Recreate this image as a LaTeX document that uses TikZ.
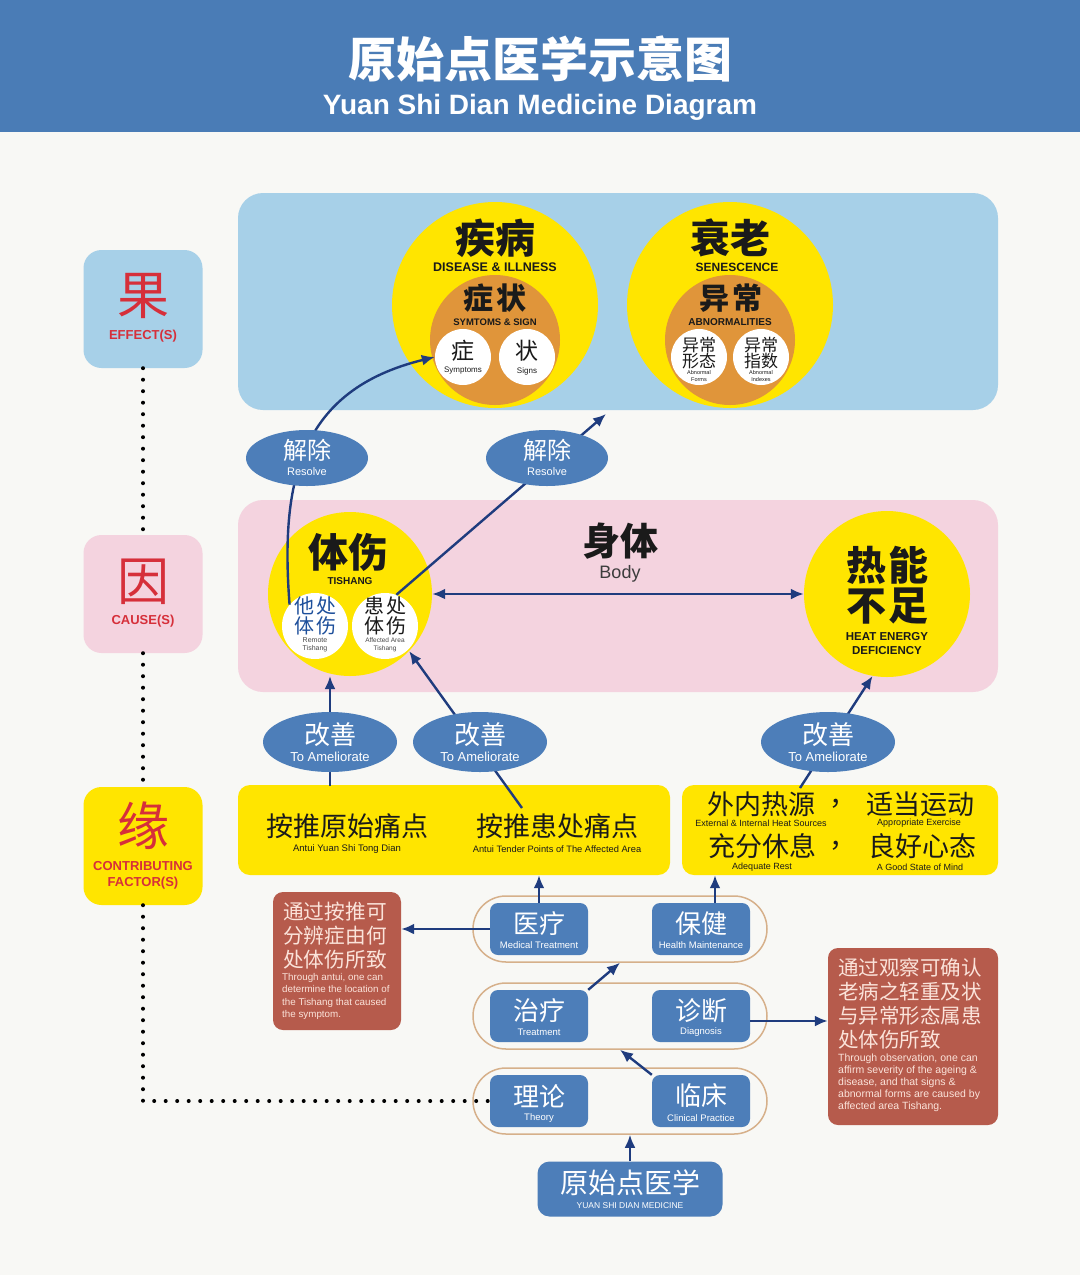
\documentclass[tikz,border=0pt]{standalone}
\usepackage{fontspec}
\setmainfont{Liberation Sans}
\newfontfamily\cjk{Noto Sans CJK SC}
\usetikzlibrary{arrows.meta,shapes.geometric}
\newcommand\fsz[1]{\fontsize{#1}{#1}\selectfont}
\definecolor{hdblue}{HTML}{4A7CB6}
\definecolor{paper}{HTML}{F8F8F5}
\definecolor{effblue}{HTML}{A7D0E8}
\definecolor{causepink}{HTML}{F4D3DF}
\definecolor{sunyellow}{HTML}{FFE500}
\definecolor{rust}{HTML}{E0953A}
\definecolor{tagred}{HTML}{D62F3A}
\definecolor{btnblue}{HTML}{4D7EB9}
\definecolor{navy}{HTML}{1F3C7E}
\definecolor{brick}{HTML}{B65B4C}
\definecolor{rimtan}{HTML}{D6B08A}
\definecolor{ink}{HTML}{1A1A1A}
\definecolor{notetxt}{HTML}{FBE3DA}
\definecolor{remblue}{HTML}{1D4F9B}
\tikzset{
  arr/.style={navy, line width=2.4pt, -{Latex[length=13pt,width=11pt]}},
  dblarr/.style={navy, line width=2.4pt, {Latex[length=13pt,width=11pt]}-{Latex[length=13pt,width=11pt]}},
  dotline/.style={line width=4pt, line cap=round, dash pattern=on 0pt off 11.5pt},
  tag/.style={fill=#1, rounded corners=18pt, minimum width=119pt, minimum height=118pt},
  disc/.style={circle, fill=#1, inner sep=0pt},
  oval/.style={ellipse, fill=btnblue, inner sep=0pt},
  btn/.style={fill=btnblue, rounded corners=8pt, minimum width=98pt, minimum height=52pt, inner sep=0pt},
  capsule/.style={draw=rimtan, line width=1.5pt, rounded corners=33pt, minimum width=294pt, minimum height=66pt},
  note/.style={fill=brick, rounded corners=10pt},
  zh/.style={font=\cjk\fsz{#1}, inner sep=0pt},
  zhb/.style={font=\cjk\bfseries\fsz{#1}, inner sep=0pt, text=ink},
  en/.style={font=\fsz{#1}, inner sep=0pt},
  enb/.style={font=\bfseries\fsz{#1}, inner sep=0pt},
}

\begin{document}
\begin{tikzpicture}[x=1pt,y=-1pt]
	%%%%% BACKGROUND %%%%%
	\useasboundingbox (0,0) rectangle (1080,1275);
	\fill[paper] (0,0) rectangle (1080,1275);
	\fill[hdblue] (0,0) rectangle (1080,132);
	\node[zhb=48, text=white] (title) at (540,59) {原始点医学示意图};
	\node[enb=28, text=white] (subtitle) at (540,107) {Yuan Shi Dian Medicine Diagram};
	
	\fill[effblue, rounded corners=25pt] (238,193) rectangle (998,410);
	\fill[causepink, rounded corners=25pt] (238,500) rectangle (998,692);
	
	%%%%% LEFT TAGS %%%%%
	\node[tag=effblue] (eff) at (143,309) {};
	\node[zh=52, text=tagred] at (143,296) {果};
	\node[enb=13, text=tagred] at (143,336) {EFFECT(S)};
	\node[tag=causepink] (cause) at (143,594) {};
	\node[zh=52, text=tagred] at (143,582) {因};
	\node[enb=13, text=tagred] at (143,621) {CAUSE(S)};
	\node[tag=sunyellow] (cont) at (143,846) {};
	\node[zh=52, text=tagred] at (143,826) {缘};
	\node[enb=13, text=tagred] at (143,866) {CONTRIBUTING};
	\node[enb=13, text=tagred] at (143,883) {FACTOR(S)};
	
	%%%%% EFFECTS %%%%%
	\node[disc=sunyellow, minimum size=206pt] (dis) at (495,305) {};
	\node[disc=rust, minimum size=130pt] (sym) at (495,340) {};
	\node[disc=white, minimum size=56pt] (zheng) at (463,357) {};
	\node[disc=white, minimum size=56pt] (zhuang) at (527,357) {};
	\node[zhb=40] at (495,238) {疾病};
	\node[enb=12.5, text=ink] at (495,267) {DISEASE \& ILLNESS};
	\node[zhb=30] at (495,298) {症\hspace{4pt}状};
	\node[enb=9.5, text=ink] at (495,322) {SYMTOMS \& SIGN};
	\node[zh=23, text=ink] at (463,351) {症};
	\node[en=8, text=ink] at (463,371) {Symptoms};
	\node[zh=23, text=ink] at (527,351) {状};
	\node[en=8, text=ink] at (527,371) {Signs};
	
	\node[disc=sunyellow, minimum size=206pt] (sen) at (730,305) {};
	\node[disc=rust, minimum size=130pt] (abn) at (730,340) {};
	\node[disc=white, minimum size=56pt] (aform) at (699,357) {};
	\node[disc=white, minimum size=56pt] (aindex) at (761,357) {};
	\node[zhb=40] at (730,238) {衰老};
	\node[enb=12, text=ink] at (737,267) {SENESCENCE};
	\node[zhb=30] at (731,298) {异\hspace{4pt}常};
	\node[enb=10, text=ink] at (730,322) {ABNORMALITIES};
	\node[inner sep=0pt, align=center, font=\cjk\fontsize{17}{16}\selectfont, text=ink] at (699,353) {异常\\形态};
	\node[inner sep=0pt, align=center, font=\fontsize{5.5}{6.5}\selectfont, text=ink] at (699,376) {Abnormal\\Forms};
	\node[inner sep=0pt, align=center, font=\cjk\fontsize{17}{16}\selectfont, text=ink] at (761,353) {异常\\指数};
	\node[inner sep=0pt, align=center, font=\fontsize{5.5}{6.5}\selectfont, text=ink] at (761,376) {Abnormal\\Indexes};
	
	%%%%% CAUSES %%%%%
	\node[disc=sunyellow, minimum size=164pt] (ts) at (350,594) {};
	\node[disc=white, minimum size=66pt] (rt) at (315,626) {};
	\node[disc=white, minimum size=66pt] (aft) at (385,626) {};
	\node[zhb=40] at (348,552) {体伤};
	\node[enb=10, text=ink] at (350,581) {TISHANG};
	\node[inner sep=0pt, align=center, font=\cjk\fontsize{20}{20}\selectfont, text=remblue] at (315,616) {他\hspace{2pt}处\\体\hspace{2pt}伤};
	\node[inner sep=0pt, align=center, font=\fontsize{7}{7.5}\selectfont, text=ink!80] at (315,645) {Remote\\Tishang};
	\node[inner sep=0pt, align=center, font=\cjk\fontsize{20}{20}\selectfont, text=ink] at (385,616) {患\hspace{2pt}处\\体\hspace{2pt}伤};
	\node[inner sep=0pt, align=center, font=\fontsize{6.5}{7.5}\selectfont, text=ink!80] at (385,645) {Affected Area\\Tishang};
	
	\node[zhb=38] (body) at (620,541) {身体};
	\node[en=18, text=ink!85] at (620,574) {Body};
	
	\node[disc=sunyellow, minimum size=166pt] (heat) at (887,594) {};
	\node[zhb=40] at (887,565) {热\hspace{2pt}能};
	\node[zhb=40] at (887,606) {不\hspace{2pt}足};
	\node[enb=11.5, text=ink] at (887,637) {HEAT ENERGY};
	\node[enb=11.5, text=ink] at (887,651) {DEFICIENCY};
	
	%%%%% CONTRIBUTING FACTORS %%%%%
	\node[fill=sunyellow, rounded corners=12pt, minimum width=432pt, minimum height=90pt] (pressl) at (454,830) {};
	\node[fill=sunyellow, rounded corners=12pt, minimum width=316pt, minimum height=90pt] (pressr) at (840,830) {};
	\node[zh=27, text=ink] at (347,826) {按推原始痛点};
	\node[en=9.5, text=ink] at (347,849) {Antui Yuan Shi Tong Dian};
	\node[zh=27, text=ink] at (557,826) {按推患处痛点};
	\node[en=9.3, text=ink] at (557,849) {Antui Tender Points of The Affected Area};
	\node[zh=27, text=ink] at (761,804) {外内热源};
	\node[en=9, text=ink] at (761,823) {External \& Internal Heat Sources};
	\node[zh=27, text=ink] at (843,804) {，};
	\node[zh=27, text=ink] at (920,804) {适当运动};
	\node[en=9, text=ink] at (919,823) {Appropriate Exercise};
	\node[zh=27, text=ink] at (762,846) {充分休息};
	\node[en=9, text=ink] at (762,867) {Adequate Rest};
	\node[zh=27, text=ink] at (843,846) {，};
	\node[zh=27, text=ink] at (922,846) {良好心态};
	\node[en=9, text=ink] at (920,867) {A Good State of Mind};
	
	%%%%% PRACTICE %%%%%
	\node[capsule] (row1) at (620,929) {};
	\node[capsule] (row2) at (620,1016) {};
	\node[capsule] (row3) at (620,1101) {};
	\node[btn] (yl) at (539,929) {};
	\node[btn] (bj) at (701,929) {};
	\node[btn] (zl) at (539,1016) {};
	\node[btn] (zd) at (701,1016) {};
	\node[btn] (ll) at (539,1101) {};
	\node[btn] (lc) at (701,1101) {};
	\node[zh=26, text=white] at (539,924) {医疗};
	\node[en=9.5, text=white] at (539,945) {Medical Treatment};
	\node[zh=26, text=white] at (701,924) {保健};
	\node[en=9.5, text=white] at (701,945) {Health Maintenance};
	\node[zh=26, text=white] at (539,1011) {治疗};
	\node[en=9.5, text=white] at (539,1032) {Treatment};
	\node[zh=26, text=white] at (701,1011) {诊断};
	\node[en=9.5, text=white] at (701,1032) {Diagnosis};
	\node[zh=26, text=white] at (539,1096) {理论};
	\node[en=9.5, text=white] at (539,1118) {Theory};
	\node[zh=26, text=white] at (701,1096) {临床};
	\node[en=9.5, text=white] at (701,1118) {Clinical Practice};
	
	\node[btn, minimum width=185pt, minimum height=55pt, rounded corners=12pt] (root) at (630,1189) {};
	\node[zh=28, text=white] at (630,1183) {原始点医学};
	\node[en=8.5, text=white] at (630,1206) {YUAN SHI DIAN MEDICINE};
	
	\node[note, minimum width=128pt, minimum height=138pt] (note1) at (337,961) {};
	\node[anchor=north west, inner sep=0pt, align=left, font=\cjk\fontsize{20.7}{24}\selectfont, text=notetxt] at (283,902) {通过按推可\\分辨症由何\\处体伤所致};
	\node[anchor=north west, inner sep=0pt, align=left, font=\fontsize{9.8}{12.5}\selectfont, text=notetxt] at (282,973) {Through antui, one can\\determine the location of\\the Tishang that caused\\the symptom.};
	\node[note, minimum width=170pt, minimum height=177pt] (note2) at (913,1036.5) {};
	\node[anchor=north west, inner sep=0pt, align=left, font=\cjk\fontsize{20.5}{24}\selectfont, text=notetxt] at (838,958) {通过观察可确认\\老病之轻重及状\\与异常形态属患\\处体伤所致};
	\node[anchor=north west, inner sep=0pt, align=left, font=\fontsize{10.5}{11.8}\selectfont, text=notetxt] at (838,1054) {Through observation, one can\\affirm severity of the ageing \&\\disease, and that signs \&\\abnormal forms are caused by\\affected area Tishang.};
	
	%%%%% ARROWS %%%%%
	\coordinate (tip2) at (606,414);
	\coordinate (push2) at (522,808);
	\coordinate (push3) at (800,788);
	\draw[arr] (rt.140) .. controls (280,480) and (300,390) .. (zheng.west);
	\draw[arr] (aft.70) -- (tip2);
	\draw[dblarr] (ts.east) -- (heat.west);
	\draw[arr] (330,786) -- (330,676);
	\draw[arr] (push2) -- (ts.-44);
	\draw[arr] (push3) -- (heat.-100);
	
	\draw[arr] (yl.north) -- (yl |- pressl.south);
	\draw[arr] ([xshift=14pt]bj.north) -- ([xshift=14pt]bj.north |- pressr.south);
	\draw[arr] (yl.west) -- (yl.west -| note1.east);
	\draw[arr] (zl.north east) -- (row1.south);
	\draw[arr] ([yshift=-5pt]zd.east) -- ([yshift=-5pt]zd.east -| note2.west);
	\draw[arr] (lc.north west) -- (row2.south);
	\draw[arr] (root.north) -- (root.north |- row3.south);
	
	\draw[dotline] (eff.south) -- (cause.north);
	\draw[dotline] (cause.south) -- (cont.north);
	\draw[dotline] (cont.south) |- (ll.west);
	
	%%%%% LABELS ON ARROWS %%%%%
	\node[oval, minimum width=122pt, minimum height=56pt] (res1) at (307,458) {};
	\node[zh=24, text=white] at (307,450) {解除};
	\node[en=11, text=white] at (307,472) {Resolve};
	\node[oval, minimum width=122pt, minimum height=56pt] (res2) at (547,458) {};
	\node[zh=24, text=white] at (547,450) {解除};
	\node[en=11, text=white] at (547,472) {Resolve};
	
	\node[oval, minimum width=134pt, minimum height=60pt] (am1) at (330,742) {};
	\node[zh=26, text=white] at (330,735) {改善};
	\node[en=13, text=white] at (330,757) {To Ameliorate};
	\node[oval, minimum width=134pt, minimum height=60pt] (am2) at (480,742) {};
	\node[zh=26, text=white] at (480,735) {改善};
	\node[en=13, text=white] at (480,757) {To Ameliorate};
	\node[oval, minimum width=134pt, minimum height=60pt] (am3) at (828,742) {};
	\node[zh=26, text=white] at (828,735) {改善};
	\node[en=13, text=white] at (828,757) {To Ameliorate};
\end{tikzpicture}
\end{document}
